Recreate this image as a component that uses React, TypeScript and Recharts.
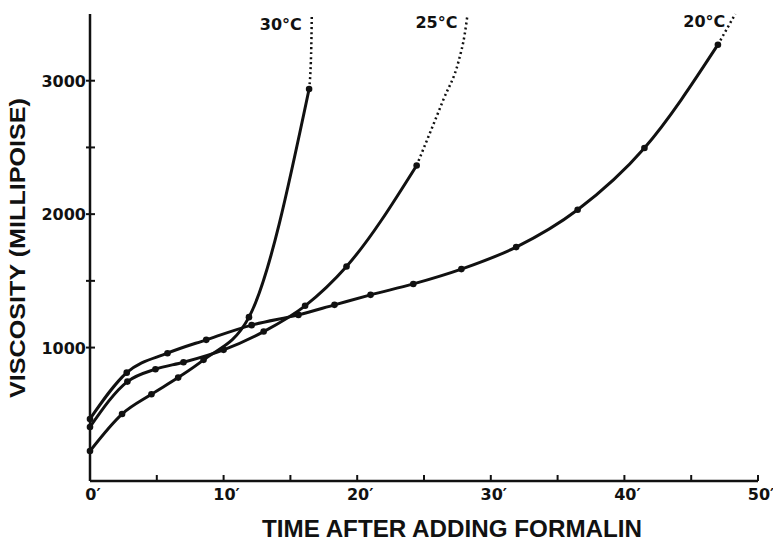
import { Line, LineChart, XAxis, YAxis } from "recharts";

// readings, minutes after adding formalin -> viscosity (millipoise)
const t20 = [0, 2.75, 5.8, 8.7, 12.1, 15.6, 18.3, 21, 24.2, 27.8, 31.9, 36.5, 41.5, 47];
const v20 = [465, 812, 958, 1058, 1168, 1245, 1320, 1395, 1477, 1588, 1753, 2033, 2496, 3270];
const t25 = [0, 2.8, 4.9, 7.0, 10, 13, 16.1, 19.2, 24.45];
const v25 = [405, 745, 838, 890, 983, 1120, 1313, 1608, 2365];
const t30 = [0, 2.4, 4.6, 6.6, 8.5, 11.9, 16.4];
const v30 = [225, 502, 650, 775, 908, 1228, 2938];

// dotted continuation after the last reading
const tx20 = [47, 48.3];
const vx20 = [3270, 3500];
const tx25 = [24.45, 26.45, 27.6, 28.05, 28.25];
const vx25 = [2365, 2858, 3150, 3350, 3490];
const tx30 = [16.4, 16.55, 16.6];
const vx30 = [2938, 3200, 3480];

const xTicks = [0, 5, 10, 15, 20, 25, 30, 35, 40, 45, 50];
const yTicks = [1000, 1500, 2000, 2500, 3000];

const zip = (ts: number[], vs: number[]) => ts.map((t, i) => ({ t, v: vs[i] }));

const INK = "#111";
const TICK_FONT = "'DejaVu Sans', sans-serif";
const TITLE_FONT = "'Liberation Sans', Arial, sans-serif";

function XTick({ x, y, payload }: any) {
  const v = payload.value as number;
  return (
    <g>
      <line x1={x} x2={x} y1={y} y2={y - 6} stroke={INK} strokeWidth={2} />
      {v % 10 === 0 && (
        <text x={x + 3} y={y + 19} textAnchor="middle" fontFamily={TICK_FONT} fontWeight="bold" fontSize={16} fill={INK}>
          {`${v}′`}
        </text>
      )}
    </g>
  );
}

function YTick({ x, y, payload }: any) {
  const v = payload.value as number;
  return (
    <g>
      <line x1={x - 4} x2={x + 5} y1={y} y2={y} stroke={INK} strokeWidth={2} />
      {v % 1000 === 0 && (
        <text x={x - 4} y={y + 6} textAnchor="end" fontFamily={TICK_FONT} fontWeight="bold" fontSize={16} fill={INK}>
          {v}
        </text>
      )}
    </g>
  );
}

const dot = (props: any) => <circle key={props.index} cx={props.cx} cy={props.cy} r={3.3} fill={INK} />;

function endLabel(name: string, last: number) {
  return (props: any) => {
    if (props.index !== last) return null;
    return (
      <text key="lbl" x={props.x - 10} y={props.y + 13} textAnchor="end" fontFamily={TICK_FONT} fontWeight="bold" fontSize={16} fill={INK}>
        {name}
      </text>
    );
  };
}

export default function App() {
  return (
    <div style={{ position: "absolute", left: 0, top: 0, background: "#fff" }}>
      <LineChart width={773} height={541} margin={{ top: 14, right: 15, bottom: 30, left: 30 }}>
        <XAxis
          type="number"
          dataKey="t"
          domain={[0, 50]}
          ticks={xTicks}
          tickSize={0}
          tickMargin={0}
          tick={<XTick />}
          tickLine={false}
          axisLine={{ stroke: INK, strokeWidth: 2.5 }}
          height={30}
          label={(p: any) => (
            <text
              x={p.viewBox.x + p.viewBox.width / 2 + 28}
              y={p.viewBox.y + 56}
              textAnchor="middle"
              textLength={380}
              lengthAdjust="spacingAndGlyphs"
              fontFamily={TITLE_FONT}
              fontWeight="bold"
              fontSize={23}
              fill={INK}
            >
              TIME AFTER ADDING FORMALIN
            </text>
          )}
        />
        <YAxis
          type="number"
          dataKey="v"
          domain={[0, 3500]}
          ticks={yTicks}
          tickSize={0}
          tickMargin={0}
          tick={<YTick />}
          tickLine={false}
          axisLine={{ stroke: INK, strokeWidth: 2.5 }}
          width={60}
          label={() => (
            <text
              transform="translate(25, 248) rotate(-90)"
              textAnchor="middle"
              textLength={300}
              lengthAdjust="spacingAndGlyphs"
              fontFamily={TITLE_FONT}
              fontWeight="bold"
              fontSize={22}
              fill={INK}
            >
              VISCOSITY (MILLIPOISE)
            </text>
          )}
        />
        <Line data={zip(t30, v30)} dataKey="v" type="monotone" stroke={INK} strokeWidth={3} dot={dot} activeDot={false} isAnimationActive={false} />
        <Line data={zip(t25, v25)} dataKey="v" type="monotone" stroke={INK} strokeWidth={3} dot={dot} activeDot={false} isAnimationActive={false} />
        <Line data={zip(t20, v20)} dataKey="v" type="monotone" stroke={INK} strokeWidth={3} dot={dot} activeDot={false} isAnimationActive={false} />
        <Line data={zip(tx30, vx30)} dataKey="v" type="monotone" stroke={INK} strokeWidth={2.5} strokeDasharray="2 3" dot={false} activeDot={false} label={endLabel("30°C", tx30.length - 1)} isAnimationActive={false} />
        <Line data={zip(tx25, vx25)} dataKey="v" type="monotone" stroke={INK} strokeWidth={2.5} strokeDasharray="2 3" dot={false} activeDot={false} label={endLabel("25°C", tx25.length - 1)} isAnimationActive={false} />
        <Line data={zip(tx20, vx20)} dataKey="v" type="monotone" stroke={INK} strokeWidth={2.5} strokeDasharray="2 3" dot={false} activeDot={false} label={endLabel("20°C", tx20.length - 1)} isAnimationActive={false} />
      </LineChart>
    </div>
  );
}
